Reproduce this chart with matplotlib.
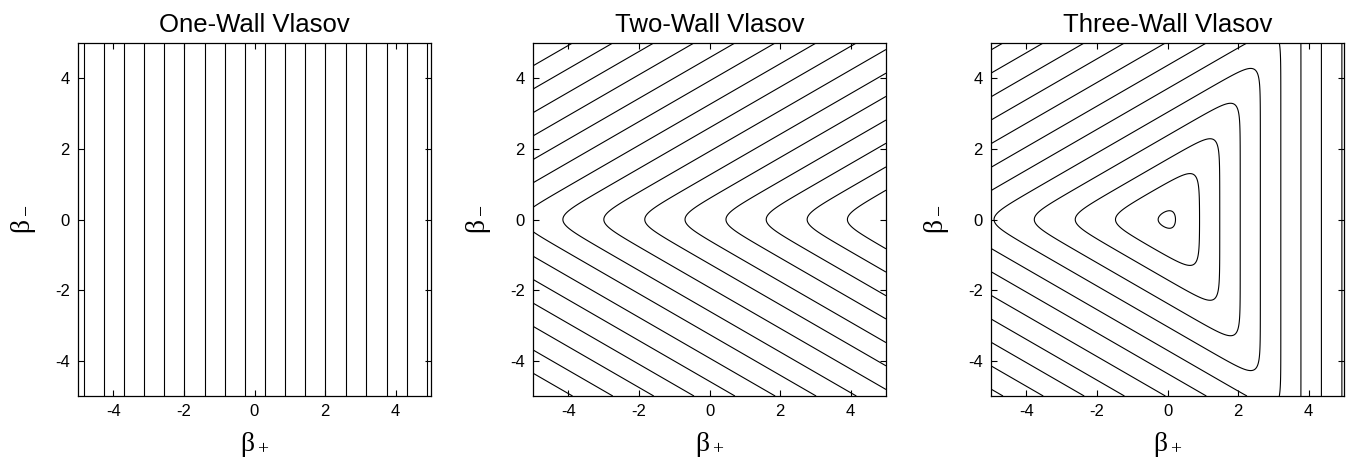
"""
Contours of the one-, two- and three-wall Vlasov potentials in the (beta+, beta-) plane
"""

import numpy as np
import matplotlib.pyplot as plt

plt.rcParams['font.family'] = ['Liberation Sans', 'DejaVu Sans']
plt.rcParams['mathtext.fontset'] = 'custom'
plt.rcParams['mathtext.rm'] = 'Liberation Serif'
plt.rcParams['mathtext.it'] = 'Liberation Serif'
plt.rcParams['axes.unicode_minus'] = False

titles = ['One-Wall Vlasov', 'Two-Wall Vlasov', 'Three-Wall Vlasov']

# wall normals in the (beta+, beta-) plane, and wall steepness
walls = [
    [(1.0, 0.0)],
    [(-0.5, 0.866), (-0.5, -0.866)],
    [(1.0, 0.0), (-0.5, 0.866), (-0.5, -0.866)],
]
steepness = 4.0

# contour levels (log of potential / steepness)
one_wall_levels = [-4.84, -4.27, -3.70, -3.13, -2.55, -1.99, -1.41, -0.84, -0.28,
                   0.31, 0.87, 1.44, 2.01, 2.59, 3.16, 3.74, 4.31, 4.89]
two_wall_levels = [-1.78, -1.21, -0.63, -0.06, 0.52, 1.09, 1.67, 2.25, 2.82,
                   3.40, 3.97, 4.55, 5.12, 5.70, 6.27]
three_wall_levels = [0.33, 0.91, 1.48, 2.06, 2.63, 3.21, 3.78, 4.36, 4.94,
                     5.51, 6.09, 6.66]
levels = [one_wall_levels, two_wall_levels, three_wall_levels]

ticks = [-4, -2, 0, 2, 4]

bp = np.linspace(-5, 5, 801)
bm = np.linspace(-5, 5, 801)
BP, BM = np.meshgrid(bp, bm)

fig = plt.figure(figsize=(13.51, 4.62), dpi=100)
lefts = [78/1351., 533/1351., 991/1351.]

for i in range(3):
    ax = fig.add_axes([lefts[i], 66/462., 353/1351., 353/462.])
    expo = np.array([steepness*(nx*BP + ny*BM) for nx, ny in walls[i]])
    field = np.log(np.exp(expo).sum(axis=0))/steepness
    ax.contour(BP, BM, field, levels=levels[i], colors='k', linewidths=0.8,
               linestyles='solid')
    ax.set_xlim(-5, 5)
    ax.set_ylim(-5, 5)
    ax.set_xticks(ticks)
    ax.set_yticks(ticks)
    ax.tick_params(direction='in', top=True, right=True, length=4, width=0.8,
                   labelsize=12, pad=6)
    for s in ax.spines.values():
        s.set_linewidth(0.9)
    ax.set_title(titles[i], fontsize=18.5, pad=8)
    ax.set_xlabel(r'$\beta_+$', fontsize=20, labelpad=8)
    ax.set_ylabel(r'$\beta_-$', fontsize=20, labelpad=12)

plt.savefig('out.png', dpi=100)
